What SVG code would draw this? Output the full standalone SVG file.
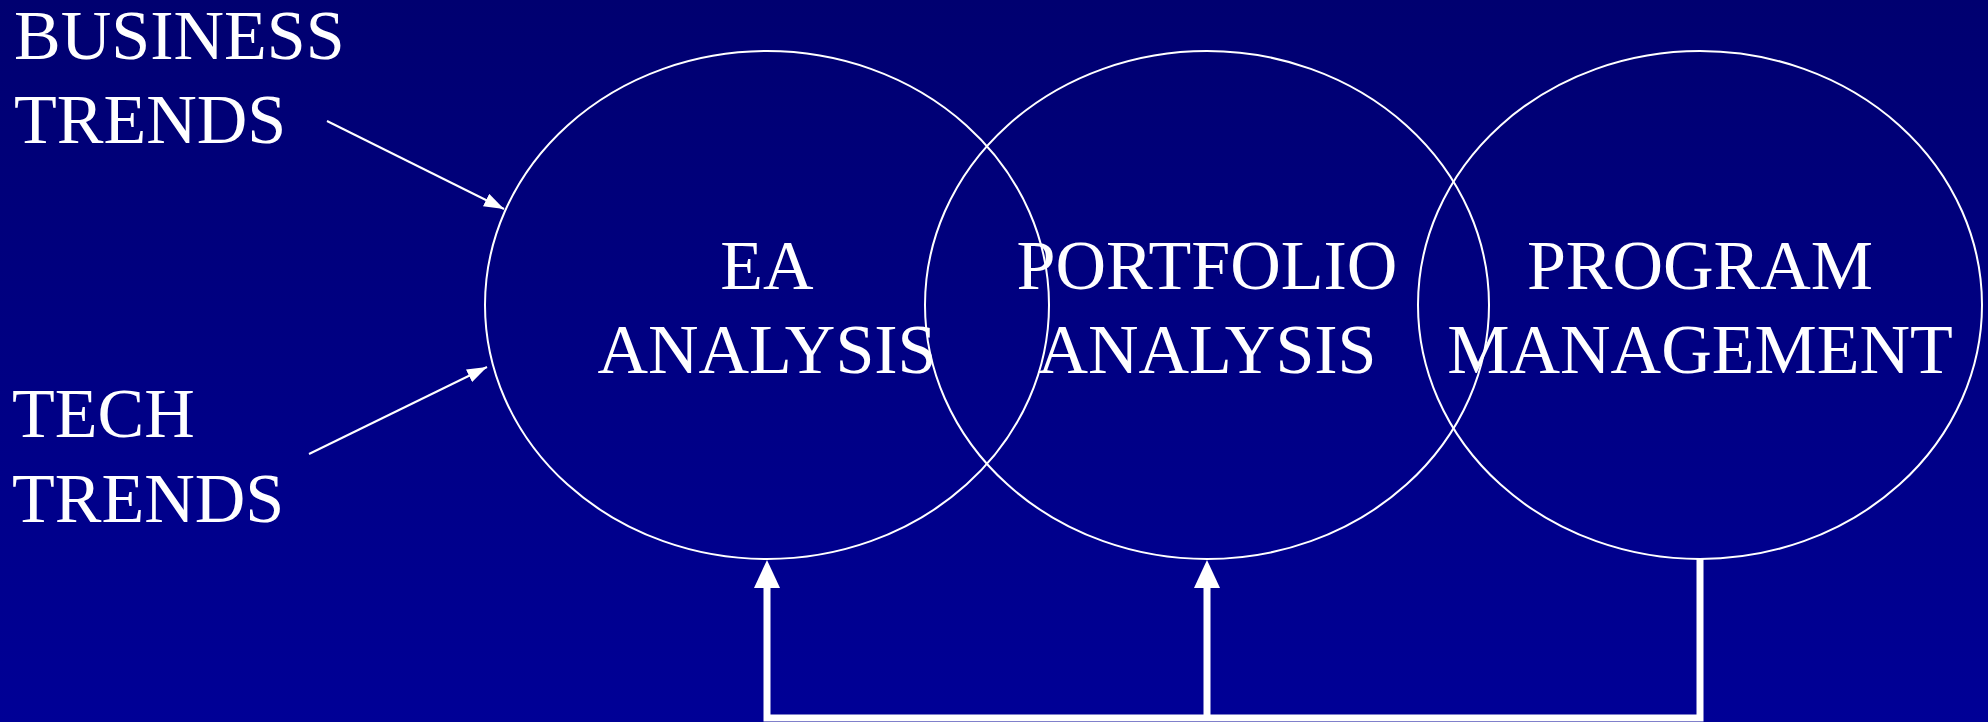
<svg xmlns="http://www.w3.org/2000/svg" width="1988" height="722" viewBox="0 0 1988 722">
  <defs>
    <linearGradient id="bg" x1="0" y1="0" x2="0" y2="1">
      <stop offset="0" stop-color="#000070"/>
      <stop offset="1" stop-color="#000096"/>
    </linearGradient>
    <marker id="thinHead" viewBox="0 0 20 14" refX="20" refY="7" markerWidth="20" markerHeight="14" markerUnits="userSpaceOnUse" orient="auto">
      <path d="M0,0 L20,7 L0,14 z" fill="#ffffff"/>
    </marker>
  </defs>
  <style>
    .lbl { font-family: "Liberation Serif", "Times New Roman", serif; font-size: 70px; fill: #ffffff; }
    .mid { text-anchor: middle; }
    .ell { fill: none; stroke: #ffffff; stroke-width: 2; }
    .thin { fill: none; stroke: #ffffff; stroke-width: 2; marker-end: url(#thinHead); }
    .thick { fill: none; stroke: #ffffff; stroke-width: 7; }
    .head { fill: #ffffff; }
  </style>
  <rect x="0" y="0" width="1988" height="722" fill="url(#bg)"/>

  <g id="business-trends">
    <text class="lbl" x="14" y="59">BUSINESS</text>
    <text class="lbl" x="14" y="143">TRENDS</text>
  </g>
  <g id="tech-trends">
    <text class="lbl" x="12" y="437">TECH</text>
    <text class="lbl" x="12" y="522">TRENDS</text>
  </g>

  <g id="ea-analysis">
    <ellipse class="ell" cx="767" cy="305" rx="282" ry="254"/>
    <text class="lbl mid" x="767" y="289">EA</text>
    <text class="lbl mid" x="767" y="373">ANALYSIS</text>
  </g>
  <g id="portfolio-analysis">
    <ellipse class="ell" cx="1207" cy="305" rx="282" ry="254"/>
    <text class="lbl mid" x="1207" y="289">PORTFOLIO</text>
    <text class="lbl mid" x="1207" y="373">ANALYSIS</text>
  </g>
  <g id="program-management">
    <ellipse class="ell" cx="1700" cy="305" rx="282" ry="254"/>
    <text class="lbl mid" x="1700" y="289">PROGRAM</text>
    <text class="lbl mid" x="1700" y="373">MANAGEMENT</text>
  </g>

  <g id="connectors">
    <line class="thin" x1="327" y1="121" x2="504" y2="209"/>
    <line class="thin" x1="309" y1="454" x2="487" y2="367"/>
    <polyline class="thick" points="1700,559 1700,718 767,718 767,585"/>
    <line class="thick" x1="1207" y1="718" x2="1207" y2="585"/>
    <path class="head" d="M767,560 L780,588 L754,588 z"/>
    <path class="head" d="M1207,560 L1220,588 L1194,588 z"/>
  </g>
</svg>
